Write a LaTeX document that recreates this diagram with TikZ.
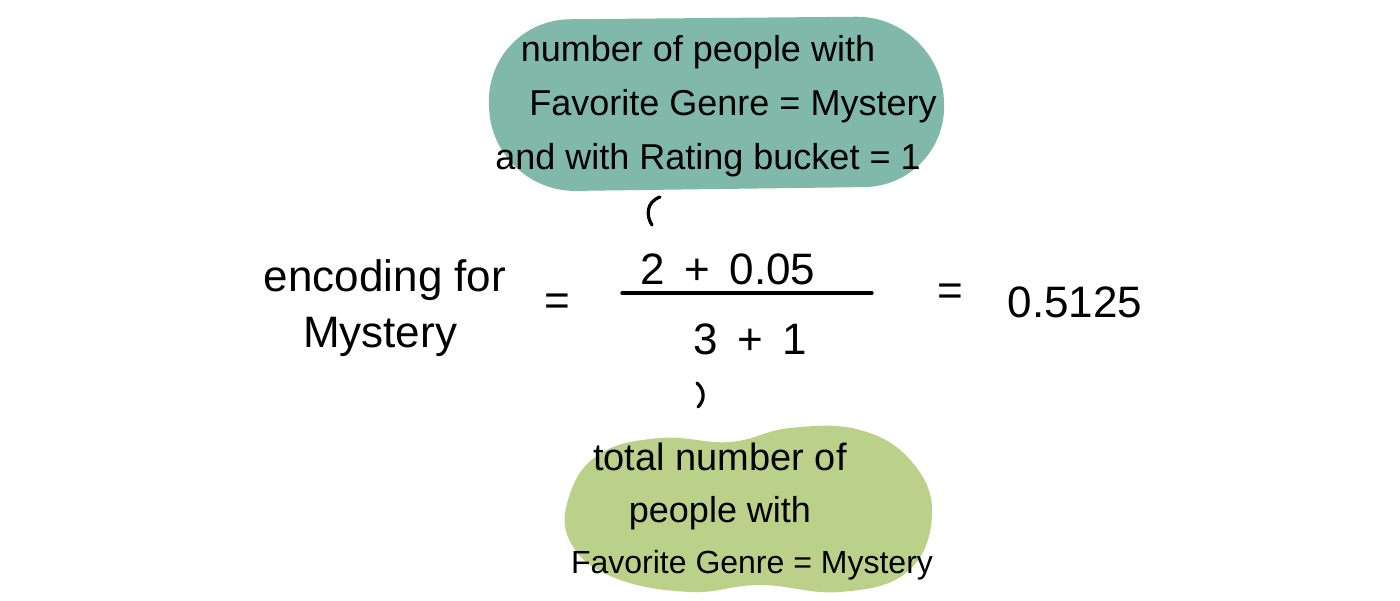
\documentclass[tikz,border=0pt]{standalone}
\usepackage{fontspec}
\setmainfont{Liberation Sans}
\definecolor{blobteal}{HTML}{80B9A9}
\definecolor{blobleaf}{HTML}{BBD18A}
\begin{document}
\begin{tikzpicture}[x=1pt,y=-1pt,
  hand/.style={font=\fontsize{36}{52}\selectfont, text=black, inner sep=0pt, anchor=base},
  big/.style={font=\fontsize{44}{56}\selectfont, text=black, inner sep=0pt, anchor=base},
  penline/.style={line width=3.2pt, line cap=round, black}]
\useasboundingbox (0,0) rectangle (1400,601);
% top teal blob
\fill[blobteal, rounded corners=84pt] (486,20) -- (940,16) -- (948,186) -- (492,192) -- cycle;
% bottom green blob
\fill[blobleaf] plot[smooth cycle, tension=0.7] coordinates {
  (568,500) (598,455) (660,438) (730,442) (790,428) (860,430) (912,462)
  (932,515) (907,572) (840,592) (760,585) (690,592) (615,578) (572,545)};
% top texts
\node[hand] (top1) at (698,62) {number of people with};
\node[hand] (top2) at (733,116) {Favorite Genre = Mystery};
\node[hand] (top3) at (708,170) {and with Rating bucket = 1};
% bottom texts
\node[hand, font=\fontsize{38}{52}\selectfont] (bot1) at (720,470) {total number of};
\node[hand] (bot2) at (720,522) {people with};
\node[hand, font=\fontsize{32}{52}\selectfont] (bot3) at (752,573) {Favorite Genre = Mystery};
% equation
\node[big] (enc1) at (385,292) {encoding for};
\node[big] (enc2) at (380,348) {Mystery};
\node[big] (eq1) at (557,316) {=};
\node[big] (num) at (728,285) {2 \,+\, 0.05};
\node[big] (den) at (750,355) {3 \,+\, 1};
\coordinate (fl) at (622,293);
\coordinate (fr) at (872,293);
\draw[penline] (fl) -- (fr);
\node[big] (eq2) at (950,306) {=};
\node[big] (res) at (1075,318) {0.5125};
% small marks
\coordinate (m1) at (660,197);
\coordinate (m2) at (697,383);
\draw[penline] (m1) .. controls (646,202) and (646,216) .. ([shift={(-8,28)}]m1);
\draw[penline] (m2) .. controls (705,390) and (705,400) .. ([shift={(1,24)}]m2);
\end{tikzpicture}
\end{document}
